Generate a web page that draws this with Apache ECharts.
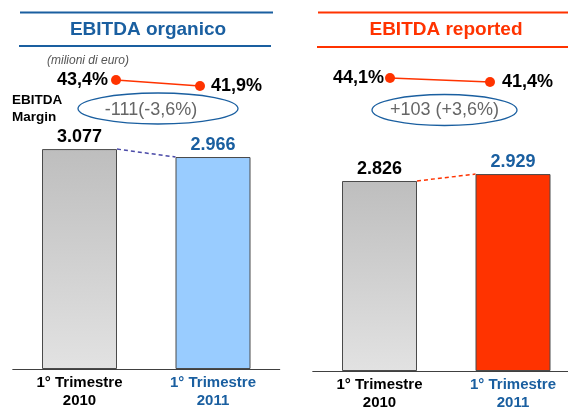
<!DOCTYPE html>
<html>
<head>
<meta charset="utf-8">
<script src="https://cdn.jsdelivr.net/npm/echarts@6/dist/echarts.min.js"></script>
<style>
html,body{margin:0;padding:0;background:#fff;}
#chart{width:568px;height:407px;}
</style>
</head>
<body>
<div id="chart"></div>
<script>
// dati (milioni di euro)
var categories = ['1° Trimestre\n2010', '1° Trimestre\n2011'];
var organico = [3077, 2966];
var reported = [2826, 2929];
var marginOrganico = [43.4, 41.9];
var marginReported = [44.1, 41.4];

var FONT = "'Liberation Sans', Arial, sans-serif";
var BLUE = '#1a5fa0';
var RED = '#ff3300';
var BAR_W = 75;

function fmtNum(v) { return String(v).replace(/\B(?=(\d{3})+(?!\d))/g, '.'); }
function fmtPct(v) { return v.toFixed(1).replace('.', ',') + '%'; }
function delta(vals, sep) {
    var d = vals[1] - vals[0];
    var p = d / vals[0] * 100;
    var s = d > 0 ? '+' : '';
    return s + d + sep + '(' + s + p.toFixed(1).replace('.', ',') + '%)';
}

var chart = echarts.init(document.getElementById('chart'));

var grayGrad = new echarts.graphic.LinearGradient(0, 0, 0, 1, [
    {offset: 0, color: '#bebebe'}, {offset: 1, color: '#e2e2e2'}
]);

function barSeries(vals, idx, color2) {
    return {
        type: 'bar', xAxisIndex: idx, yAxisIndex: idx, barWidth: BAR_W, z: 2,
        data: vals.map(function (v, i) {
            return {
                value: v,
                itemStyle: {color: i === 0 ? grayGrad : color2},
                label: {color: i === 0 ? '#000' : BLUE}
            };
        }),
        itemStyle: {borderColor: '#4a4a4a', borderWidth: 1},
        label: {
            show: true, position: 'top', distance: 3,
            fontFamily: FONT, fontSize: 18, fontWeight: 'bold',
            formatter: function (p) { return fmtNum(p.value); }
        }
    };
}

// linea tratteggiata tra le cime delle barre
function connector(vals, idx, color) {
    return {
        type: 'custom', xAxisIndex: idx, yAxisIndex: idx, silent: true, z: 1,
        data: [[0, vals[0], 1, vals[1]]],
        renderItem: function (params, api) {
            var a = api.coord([api.value(0), api.value(1)]);
            var b = api.coord([api.value(2), api.value(3)]);
            return {
                type: 'line',
                shape: {x1: a[0] + BAR_W / 2, y1: a[1], x2: b[0] - BAR_W / 2, y2: b[1]},
                style: {stroke: color, lineWidth: 1.5, lineDash: [4, 3]}
            };
        }
    };
}

function marginSeries(vals, idx, distL, distR) {
    return {
        type: 'line', xAxisIndex: idx, yAxisIndex: idx,
        symbol: 'circle', symbolSize: 10,
        lineStyle: {color: RED, width: 1.5},
        itemStyle: {color: RED},
        data: vals.map(function (v, i) {
            return {
                value: v,
                label: {position: i === 0 ? 'left' : 'right', distance: i === 0 ? distL : distR}
            };
        }),
        label: {
            show: true, color: '#000', fontFamily: FONT, fontSize: 18, fontWeight: 'bold',
            formatter: function (p) { return fmtPct(p.value); }
        }
    };
}

var catAxis = function (idx) {
    return {
        type: 'category', gridIndex: idx, data: categories,
        axisTick: {show: false},
        axisLine: {lineStyle: {color: '#404040', width: 1}},
        axisLabel: {
            fontFamily: FONT, fontSize: 15, fontWeight: 'bold', lineHeight: 18, margin: 5,
            color: function (v, i) { return i === 0 ? '#000' : BLUE; }
        }
    };
};
var hiddenCat = function (idx) {
    return {type: 'category', gridIndex: idx, data: [0, 1], boundaryGap: false, show: false};
};

option = {
    animation: false,
    grid: [
        {left: 12.75, width: 267, top: 126, height: 243, outerBoundsMode: 'none'},
        {left: 312.75, width: 267, top: 142.4, height: 228.6, outerBoundsMode: 'none'},
        {left: 116, width: 84, top: 53.6, height: 80, outerBoundsMode: 'none'},
        {left: 390, width: 100, top: 69.26, height: 29.63, outerBoundsMode: 'none'}
    ],
    xAxis: [catAxis(0), catAxis(1), hiddenCat(2), hiddenCat(3)],
    yAxis: [
        {type: 'value', gridIndex: 0, min: 0, max: 3400, show: false},
        {type: 'value', gridIndex: 1, min: 0, max: 3400, show: false},
        {type: 'value', gridIndex: 2, min: 30, max: 50, show: false},
        {type: 'value', gridIndex: 3, min: 30, max: 50, show: false}
    ],
    series: [
        barSeries(organico, 0, '#99ccff'),
        barSeries(reported, 1, RED),
        connector(organico, 0, '#4a4aa8'),
        connector(reported, 1, RED),
        marginSeries(marginOrganico, 2, 3, 6),
        marginSeries(marginReported, 3, 1, 7)
    ],
    graphic: [
        // intestazioni
        {type: 'line', shape: {x1: 20, y1: 12.5, x2: 273, y2: 12.5}, style: {stroke: BLUE, lineWidth: 2}},
        {type: 'line', shape: {x1: 19, y1: 46, x2: 271, y2: 46}, style: {stroke: BLUE, lineWidth: 2}},
        {type: 'text', x: 148, y: 30, style: {text: 'EBITDA organico', fill: BLUE, font: 'bold 19px ' + FONT, align: 'center', verticalAlign: 'middle'}},
        {type: 'line', shape: {x1: 318, y1: 12.5, x2: 568, y2: 12.5}, style: {stroke: RED, lineWidth: 2}},
        {type: 'line', shape: {x1: 317, y1: 47, x2: 568, y2: 47}, style: {stroke: RED, lineWidth: 2}},
        {type: 'text', x: 446, y: 30, style: {text: 'EBITDA reported', fill: RED, font: 'bold 19px ' + FONT, align: 'center', verticalAlign: 'middle'}},
        {type: 'text', x: 47, y: 61, style: {text: '(milioni di euro)', fill: '#555', font: 'italic 12px ' + FONT, verticalAlign: 'middle'}},
        {type: 'text', x: 12, y: 100, style: {text: 'EBITDA', fill: '#000', font: 'bold 13.5px ' + FONT, verticalAlign: 'middle'}},
        {type: 'text', x: 12, y: 117, style: {text: 'Margin', fill: '#000', font: 'bold 13.5px ' + FONT, verticalAlign: 'middle'}},
        // variazioni
        {type: 'ellipse', shape: {cx: 158, cy: 108.5, rx: 80, ry: 15.5}, style: {fill: 'none', stroke: BLUE, lineWidth: 1.3}},
        {type: 'text', x: 151, y: 110, style: {text: delta(organico, ''), fill: '#666', font: '18px ' + FONT, align: 'center', verticalAlign: 'middle'}},
        {type: 'ellipse', shape: {cx: 444.5, cy: 110, rx: 72.5, ry: 15.5}, style: {fill: 'none', stroke: BLUE, lineWidth: 1.3}},
        {type: 'text', x: 444.5, y: 110, style: {text: delta(reported, ' '), fill: '#666', font: '18px ' + FONT, align: 'center', verticalAlign: 'middle'}}
    ]
};
chart.setOption(option);
</script>
</body>
</html>
